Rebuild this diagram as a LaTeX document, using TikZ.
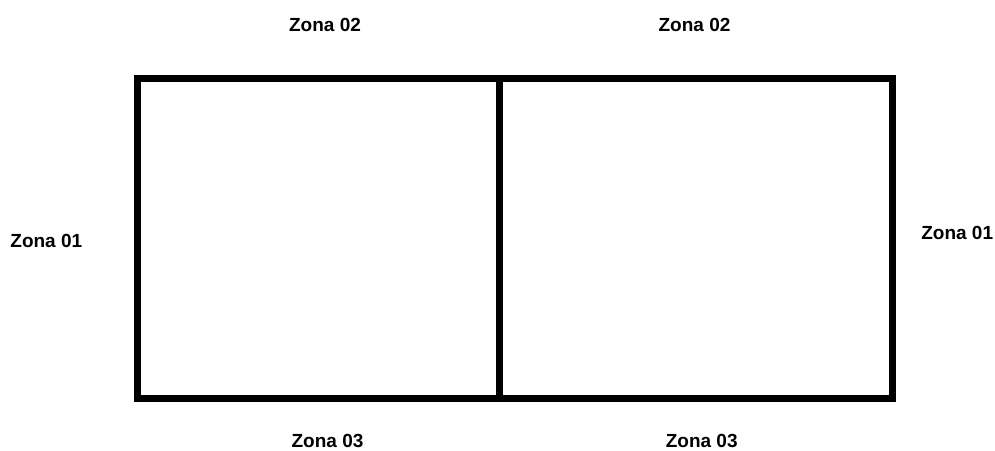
\documentclass[tikz,border=0pt]{standalone}
\usepackage{fontspec}
\setmainfont{Liberation Sans}
\usetikzlibrary{positioning}

\tikzset{
  zona/.style={font=\fontsize{19}{22}\selectfont\bfseries, inner sep=0pt},
  muro/.style={line width=6.7pt, line cap=rect, line join=miter}
}

\begin{document}
\begin{tikzpicture}[x=1pt,y=-1pt]
  \useasboundingbox (0,0) rectangle (995,450);

  % pianta
  \draw[muro] (137.5,78.5) rectangle (892.7,398.5);
  \draw[muro] (499.5,78.5) -- (499.5,398.5);

  % etichette sopra
  \node[zona] (z02a) at (325,24.5) {Zona 02};
  \node[zona] (z02b) at (694.5,25.2) {Zona 02};

  % etichette ai lati
  \node[zona] (z01a) at (46.3,241) {Zona 01};
  \node[zona] (z01b) at (957.2,232.6) {Zona 01};

  % etichette sotto
  \node[zona] (z03a) at (327.5,440.5) {Zona 03};
  \node[zona] (z03b) at (701.7,440.5) {Zona 03};
\end{tikzpicture}
\end{document}
